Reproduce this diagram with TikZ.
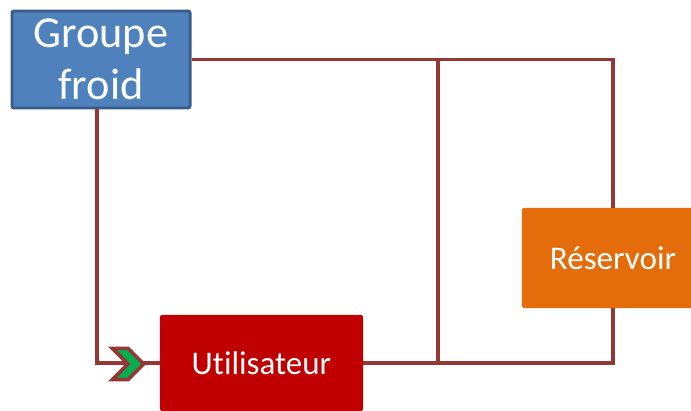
\documentclass[tikz,border=0pt]{standalone}
\usepackage{fontspec}
\setmainfont[Ligatures=NoCommon]{Carlito}
\usetikzlibrary{positioning,shapes.symbols}
\definecolor{pipe}{HTML}{953735}
\definecolor{bleu}{HTML}{4F81BD}
\definecolor{bleubord}{HTML}{385D8A}
\definecolor{rouge}{HTML}{C00000}
\definecolor{orange}{HTML}{E46C0A}
\definecolor{vert}{HTML}{00B050}
\tikzset{unitbox/.style={rounded corners=1.5pt,text=white,align=center,font=\fontsize{23.5}{28}\selectfont},flow/.style={draw=pipe,line width=2.8pt}}
\begin{document}
\begin{tikzpicture}[x=0.025cm,y=-0.025cm]
\useasboundingbox (0,0) rectangle (691,410);
\node[unitbox,fill=bleu,draw=bleubord,line width=2.1pt,minimum width=4.45cm,minimum height=2.425cm,font=\fontsize{31.5}{37}\selectfont] (groupe) at (101,59.5) {Groupe\\froid};
\node[unitbox,fill=rouge,minimum width=5.075cm,minimum height=2.4cm] (util) at (261.5,363) {Utilisateur};
\node[unitbox,fill=orange,minimum width=4.55cm,minimum height=2.5cm] (reserv) at (613,258) {Réservoir};
\coordinate (jt) at (438,59.5);
\coordinate (jb) at (438,363);
\draw[flow] (groupe.east)-|(reserv.north);
\draw[flow] (util.east)-|(reserv.south);
\draw[flow] (jt)--(jb);
\draw[flow] ([xshift=-0.1cm]groupe.south)|-(util.west);
\node[signal,signal from=west,signal to=east,fill=vert,draw=pipe,line width=2.6pt,minimum width=0.78cm,minimum height=0.78cm,inner sep=0pt] (chev) at (128,364) {};
\end{tikzpicture}
\end{document}
